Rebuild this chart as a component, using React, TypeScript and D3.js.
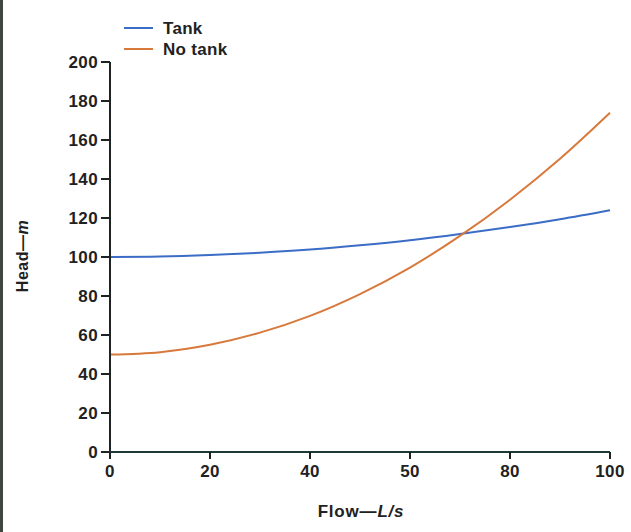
import React from "react";
import * as d3 from "d3";

// values
const flow = [0, 10, 20, 30, 40, 50, 60, 70, 80, 90, 100];
const tankHead = [100, 100.2, 101, 102.2, 103.8, 106, 108.6, 111.8, 115.4, 119.4, 124];
const noTankHead = [50, 51.2, 55, 61.2, 69.8, 81, 94.6, 110.8, 129.4, 150.4, 174];

const xTicks = [0, 20, 40, 60, 80, 100];
const xTickLabels = ["0", "20", "40", "50", "80", "100"];
const yTicks = [0, 20, 40, 60, 80, 100, 120, 140, 160, 180, 200];

const seriesNames = ["Tank", "No tank"];
const seriesColors = ["#3b6cc6", "#d8793c"];

const App = () => {
  const width = 631;
  const height = 532;
  const margins = { top: 62, right: 21, bottom: 80, left: 110 };

  const xScale = d3.scaleLinear()
    .domain([0, 100])
    .range([margins.left, width - margins.right]);

  const yScale = d3.scaleLinear()
    .domain([0, 200])
    .range([height - margins.bottom, margins.top]);

  const line = d3.line<number>()
    .x((d, i) => xScale(flow[i]))
    .y((d) => yScale(d))
    .curve(d3.curveCatmullRom);

  const series = [tankHead, noTankHead];
  const font = "'Liberation Sans', Arial, sans-serif";
  const ink = "#1f2222";
  const y0 = yScale(0);
  const x0 = xScale(0);

  return (
    <svg
      width={width}
      height={height}
      style={{ position: "absolute", left: 0, top: 0, background: "#fff" }}
      fontFamily={font}
      fontWeight="bold"
    >
      {/* scanned page edge */}
      <line x1={1.5} x2={1.5} y1={0} y2={height} stroke="#3f4640" strokeWidth={3} />

      {/* curves */}
      {series.map((s, i) => (
        <path key={i} d={line(s) || ""} fill="none" stroke={seriesColors[i]} strokeWidth={2} />
      ))}

      {/* y axis */}
      <line x1={x0} x2={x0} y1={yScale(200)} y2={y0 + 1} stroke={ink} strokeWidth={2} />
      {yTicks.map((t) => (
        <g key={t}>
          <line x1={x0 - 9} x2={x0} y1={yScale(t)} y2={yScale(t)} stroke={ink} strokeWidth={2} />
          <text x={x0 - 12} y={yScale(t)} dy="0.36em" textAnchor="end" fontSize={17} letterSpacing={0.4} fill={ink}>
            {t}
          </text>
        </g>
      ))}

      {/* x axis */}
      <line x1={x0 - 1} x2={xScale(100)} y1={y0} y2={y0} stroke="#1d3a38" strokeWidth={2} />
      {xTicks.map((t, i) => (
        <g key={t}>
          <line x1={xScale(t)} x2={xScale(t)} y1={y0} y2={y0 + 7} stroke={ink} strokeWidth={2} />
          <text x={xScale(t)} y={y0 + 25} textAnchor="middle" fontSize={17} letterSpacing={0.4} fill={ink}>
            {xTickLabels[i]}
          </text>
        </g>
      ))}

      {/* axis titles */}
      <text x={361} y={517} textAnchor="middle" fontSize={17} letterSpacing={0.8} fill={ink}>
        Flow—<tspan fontStyle="italic">L/s</tspan>
      </text>
      <text
        transform={`translate(28, 256) rotate(-90)`}
        textAnchor="middle"
        fontSize={16}
        letterSpacing={0.5}
        fill={ink}
      >
        Head—<tspan fontStyle="italic">m</tspan>
      </text>

      {/* legend */}
      {seriesNames.map((n, i) => (
        <g key={n} transform={`translate(124, ${28 + i * 21})`}>
          <line x1={0} x2={29} y1={0} y2={0} stroke={seriesColors[i]} strokeWidth={2} />
          <text x={39} y={0} dy="0.36em" fontSize={17} letterSpacing={0.3} fill={ink}>
            {n}
          </text>
        </g>
      ))}
    </svg>
  );
};

export default App;
